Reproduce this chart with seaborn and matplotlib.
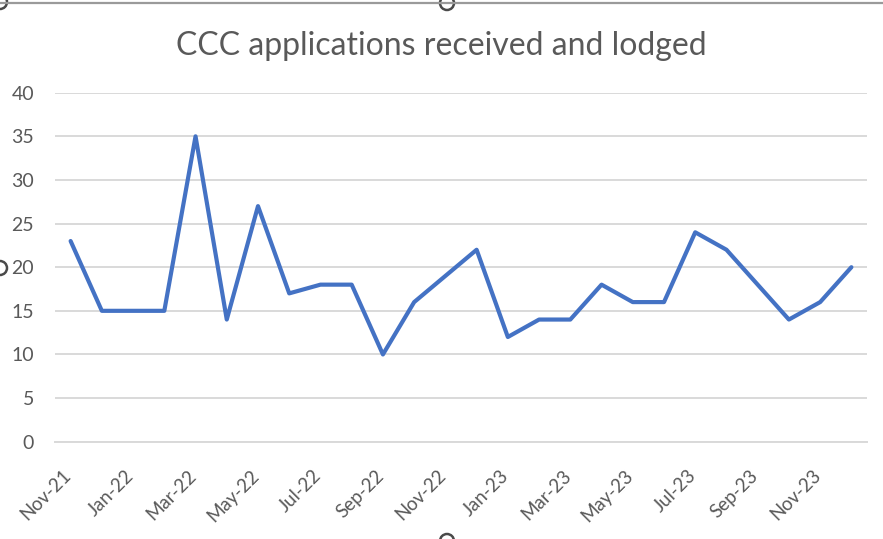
import numpy as np
import pandas as pd
import matplotlib
matplotlib.use("Agg")
import matplotlib.pyplot as plt
import matplotlib.transforms as mtransforms
from matplotlib.patches import Circle
from matplotlib.lines import Line2D
import seaborn as sns

months = ["Nov-21", "Dec-21", "Jan-22", "Feb-22", "Mar-22", "Apr-22", "May-22",
          "Jun-22", "Jul-22", "Aug-22", "Sep-22", "Oct-22", "Nov-22", "Dec-22",
          "Jan-23", "Feb-23", "Mar-23", "Apr-23", "May-23", "Jun-23", "Jul-23",
          "Aug-23", "Sep-23", "Oct-23", "Nov-23", "Dec-23"]
applications = [23, 15, 15, 15, 35, 14, 27, 17, 18, 18, 10, 16, 19, 22,
                12, 14, 14, 18, 16, 16, 24, 22, 18, 14, 16, 20]
y_ticks = [0, 5, 10, 15, 20, 25, 30, 35, 40]
title = "CCC applications received and lodged"

sns.set_theme(style="white")
plt.rcParams["font.family"] = ["Lato", "DejaVu Sans"]

W, H = 883, 539
fig = plt.figure(figsize=(W / 100, H / 100), dpi=100)
left, right = 55 / W, 867 / W
bottom, top = 1 - 441.7 / H, 1 - 92.7 / H
ax = fig.add_axes([left, bottom, right - left, top - bottom])

df = pd.DataFrame({"idx": np.arange(len(months)), "month": months, "value": applications})
sns.lineplot(data=df, x="idx", y="value", ax=ax, color="#4472C4", linewidth=3.0,
             solid_joinstyle="round", solid_capstyle="round")

ax.set_xlim(-0.5, len(months) - 0.5)
ax.set_ylim(0, 40)
ax.set_yticks(y_ticks)
ax.set_yticklabels([str(v) for v in y_ticks])
ax.grid(axis="y", color="#d9d9d9", linewidth=1.4)
ax.set_axisbelow(True)
for s in ["top", "right", "left"]:
    ax.spines[s].set_visible(False)
ax.spines["bottom"].set_color("#d9d9d9")
ax.spines["bottom"].set_linewidth(1.4)

major = list(range(0, len(months), 2))
ax.set_xticks(major)
ax.set_xticklabels([months[i] for i in major], rotation=45, ha="right", va="top")
ax.set_xticks(np.arange(-0.5, len(months), 2), minor=True)
ax.tick_params(axis="x", which="major", length=0, pad=18, labelsize=13.5, labelcolor="#595959")
ax.tick_params(axis="x", which="minor", length=5, width=1.4, color="#d9d9d9", direction="out")
ax.tick_params(axis="y", length=0, pad=15, labelsize=14, labelcolor="#595959")
ax.set_xlabel("")
ax.set_ylabel("")

offset = mtransforms.ScaledTranslation(4 / 100, 0, fig.dpi_scale_trans)
for lab in ax.get_xticklabels():
    lab.set_transform(lab.get_transform() + offset)

fig.text(0.5, 1 - 46 / H, title, ha="center", va="center", fontsize=23, color="#595959")

# selection frame decorations from the screenshot
fig.add_artist(Line2D([0, 1], [1 - 2.5 / H, 1 - 2.5 / H], transform=fig.transFigure,
                      color="#9a9a9a", linewidth=1.6))
for (cx, cy) in [(0, 2), (447, 3), (0, 268), (447, 541)]:
    fig.add_artist(Circle((cx, H - cy), 7, transform=None, facecolor="white",
                          edgecolor="#4a4a4a", linewidth=1.8))

fig.savefig("out.png", dpi=100)
